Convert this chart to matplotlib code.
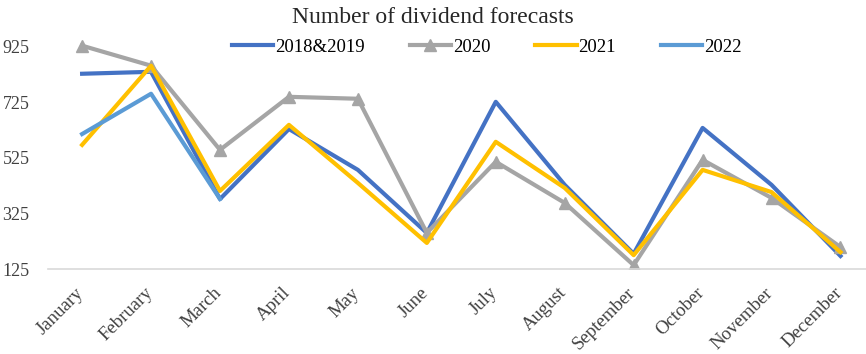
import matplotlib
matplotlib.use('Agg')
import matplotlib.pyplot as plt
from matplotlib.transforms import ScaledTranslation

plt.rcParams['font.family'] = ['Liberation Serif', 'DejaVu Serif']

# DATA
months = ['January', 'February', 'March', 'April', 'May', 'June', 'July',
          'August', 'September', 'October', 'November', 'December']
y2018_2019 = [828, 835, 377, 629, 482, 255, 727, 428, 180, 633, 428, 172]
y2020 = [929, 857, 554, 745, 738, 255, 511, 363, 139, 518, 381, 204]
y2021 = [572, 857, 406, 644, 435, 219, 583, 417, 175, 482, 402, 186]
y2022 = [611, 756, 377]
yticks = [125, 325, 525, 725, 925]

fig = plt.figure(figsize=(8.66, 3.54), dpi=100)
ax = fig.add_axes([0.055, 0.24, 0.945, 0.667])

x = list(range(len(months)))
ax.plot(x, y2018_2019, color='#4472C4', lw=3, label='2018&2019')
ax.plot(x, y2020, color='#A5A5A5', lw=3, marker='^', markersize=8, label='2020')
ax.plot(x, y2021, color='#FFC000', lw=3, label='2021')
ax.plot(x[:len(y2022)], y2022, color='#5B9BD5', lw=3, label='2022')

ax.set_xlim(-0.5, 11.37)
ax.set_ylim(125, 975)
ax.set_yticks(yticks)
ax.set_yticklabels([str(v) for v in yticks], fontsize=13, color='#404040')
ax.set_xticks(x)
ax.set_xticklabels(months, rotation=45, ha='right', va='top', rotation_mode='anchor',
                   fontsize=13.5, color='#404040')
ax.tick_params(axis='both', length=0)
ax.tick_params(axis='x', pad=11)
ax.tick_params(axis='y', pad=13)

# nudge the rotated month labels a little to the left
shift = ScaledTranslation(-5 / 72, 0, fig.dpi_scale_trans)
for lbl in ax.get_xticklabels():
    lbl.set_transform(lbl.get_transform() + shift)

for s in ['top', 'right', 'left']:
    ax.spines[s].set_visible(False)
ax.spines['bottom'].set_color('#D9D9D9')
ax.spines['bottom'].set_linewidth(1.2)

fig.text(0.5, 0.95, 'Number of dividend forecasts', ha='center', va='center',
         fontsize=17, color='#262626')

fig.legend(loc='center', bbox_to_anchor=(0.562, 0.867), ncol=4, frameon=False,
           fontsize=13.5, handlelength=2.2, columnspacing=2.4, handletextpad=0.1)

fig.savefig('out.png', dpi=100)
